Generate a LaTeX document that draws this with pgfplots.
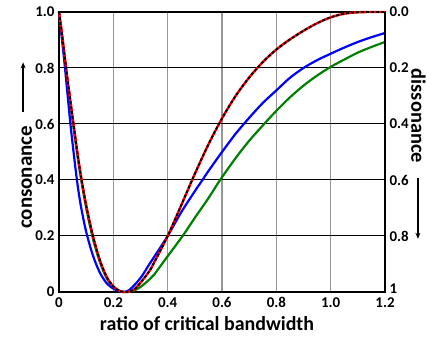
\documentclass[border=0pt]{standalone}
\usepackage{fontspec}
\setmainfont{Carlito}
\usepackage{pgfplots}
\pgfplotsset{compat=1.18}
\usetikzlibrary{arrows.meta}
\definecolor{cgreen}{RGB}{0,128,0}
\definecolor{cblue}{RGB}{0,0,255}
\definecolor{cred}{RGB}{255,0,0}
\definecolor{gridgray}{RGB}{150,150,150}
\begin{document}
\begin{tikzpicture}
\pgfplotsset{
  common/.style={
    at={(59bp,46bp)}, anchor=south west,
    scale only axis, width=326bp, height=280bp,
    xmin=0, xmax=1.2, ymin=0, ymax=1,
    major tick length=0pt,
    /pgf/number format/assume math mode=true,
    tick label style={font=\fontsize{15}{15}\selectfont\bfseries},
    axis line style={line width=2.6bp, black},
  }
}
\begin{axis}[common,
  xtick={0,0.2,0.4,0.6,0.8,1.0,1.2},
  xticklabels={\textbf{0},\textbf{0.2},\textbf{0.4},\textbf{0.6},\textbf{0.8},\textbf{1.0},\textbf{1.2}},
  ytick={0,0.2,0.4,0.6,0.8,1.0},
  yticklabels={\textbf{0},\textbf{0.2},\textbf{0.4},\textbf{0.6},\textbf{0.8},\textbf{1.0}},
  xmajorgrids, ymajorgrids,
  x grid style={line width=1.1bp, gridgray},
  y grid style={line width=1bp, black},
  xticklabel style={yshift=-2bp},
  yticklabel style={xshift=-1bp},
  clip=false,
]
\addplot[cgreen, line width=2.2bp, smooth] coordinates {
(0,1.0) (0.02,0.84) (0.03,0.76) (0.05,0.61) (0.075,0.44) (0.1,0.30) (0.125,0.19) (0.15,0.108) (0.175,0.05) (0.2,0.018) (0.225,0.003) (0.25,0.0) (0.275,0.005) (0.3,0.018) (0.333,0.045) (0.35,0.062) (0.4,0.128) (0.455,0.2) (0.5,0.265) (0.55,0.335) (0.593,0.4) (0.65,0.478) (0.7,0.54) (0.755,0.6) (0.8,0.647) (0.85,0.695) (0.9,0.737) (0.95,0.773) (1.0,0.804) (1.05,0.83) (1.1,0.855) (1.15,0.875) (1.2,0.893)
};
\addplot[cblue, line width=2.2bp, smooth] coordinates {
(0,1.0) (0.02,0.82) (0.04,0.62) (0.05,0.53) (0.066,0.40) (0.08,0.31) (0.1,0.215) (0.125,0.13) (0.15,0.07) (0.175,0.032) (0.2,0.012) (0.235,0.0) (0.26,0.008) (0.3,0.05) (0.333,0.10) (0.35,0.125) (0.4,0.2) (0.45,0.285) (0.5,0.36) (0.528,0.40) (0.55,0.432) (0.6,0.5) (0.65,0.565) (0.7,0.622) (0.75,0.675) (0.8,0.72) (0.85,0.765) (0.9,0.80) (0.95,0.828) (1.0,0.851) (1.05,0.873) (1.1,0.893) (1.15,0.91) (1.2,0.925)
};
\addplot[cred, line width=2.4bp, smooth] coordinates {
(0,1.0) (0.01,0.93) (0.02,0.85) (0.03,0.77) (0.05,0.625) (0.075,0.45) (0.1,0.31) (0.125,0.20) (0.15,0.115) (0.175,0.055) (0.2,0.02) (0.225,0.003) (0.25,0.0) (0.275,0.008) (0.3,0.033) (0.333,0.075) (0.35,0.105) (0.4,0.2) (0.45,0.31) (0.5,0.422) (0.55,0.527) (0.6,0.62) (0.65,0.70) (0.7,0.766) (0.75,0.821) (0.8,0.866) (0.85,0.902) (0.9,0.933) (0.95,0.96) (1.0,0.981) (1.05,0.994) (1.1,0.999) (1.15,1.0) (1.2,1.0)
};
\addplot[black, line width=1.8bp, dash pattern=on 3bp off 2bp, smooth] coordinates {
(0,1.0) (0.01,0.93) (0.02,0.85) (0.03,0.77) (0.05,0.625) (0.075,0.45) (0.1,0.31) (0.125,0.20) (0.15,0.115) (0.175,0.055) (0.2,0.02) (0.225,0.003) (0.25,0.0) (0.275,0.008) (0.3,0.033) (0.333,0.075) (0.35,0.105) (0.4,0.2) (0.45,0.31) (0.5,0.422) (0.55,0.527) (0.6,0.62) (0.65,0.70) (0.7,0.766) (0.75,0.821) (0.8,0.866) (0.85,0.902) (0.9,0.933) (0.95,0.96) (1.0,0.981) (1.05,0.994) (1.1,0.999) (1.15,1.0) (1.2,1.0)
};
\node[anchor=base, font=\fontsize{20}{20}\selectfont\bfseries] at (axis description cs:0.454,-0.136) {ratio of critical bandwidth};
\node[anchor=base, rotate=90, font=\fontsize{21}{21}\selectfont\bfseries] at (axis description cs:-0.083,0.409) {consonance};
\node[anchor=base, rotate=-90, font=\fontsize{20.5}{20.5}\selectfont\bfseries] at (axis description cs:1.081,0.629) {dissonance};
\draw[line width=1.6bp, -{Stealth[length=6bp,width=5bp]}] (axis description cs:-0.110,0.643) -- (axis description cs:-0.110,0.820);
\draw[line width=1.6bp, -{Stealth[length=6bp,width=5bp]}] (axis description cs:1.101,0.407) -- (axis description cs:1.101,0.190);
\end{axis}
\begin{axis}[common,
  axis x line=none,
  axis y line*=right,
  y dir=reverse,
  ytick={0,0.2,0.4,0.6,0.8,1.0},
  yticklabels={\textbf{0.0},\textbf{0.2},\textbf{0.4},\textbf{0.6},\textbf{0.8},\raisebox{7bp}{\textbf{1}}},
  yticklabel style={xshift=1bp},
]
\end{axis}
\pgfresetboundingbox
\useasboundingbox (0,0) rectangle (427bp,338bp);
\end{tikzpicture}
\end{document}
